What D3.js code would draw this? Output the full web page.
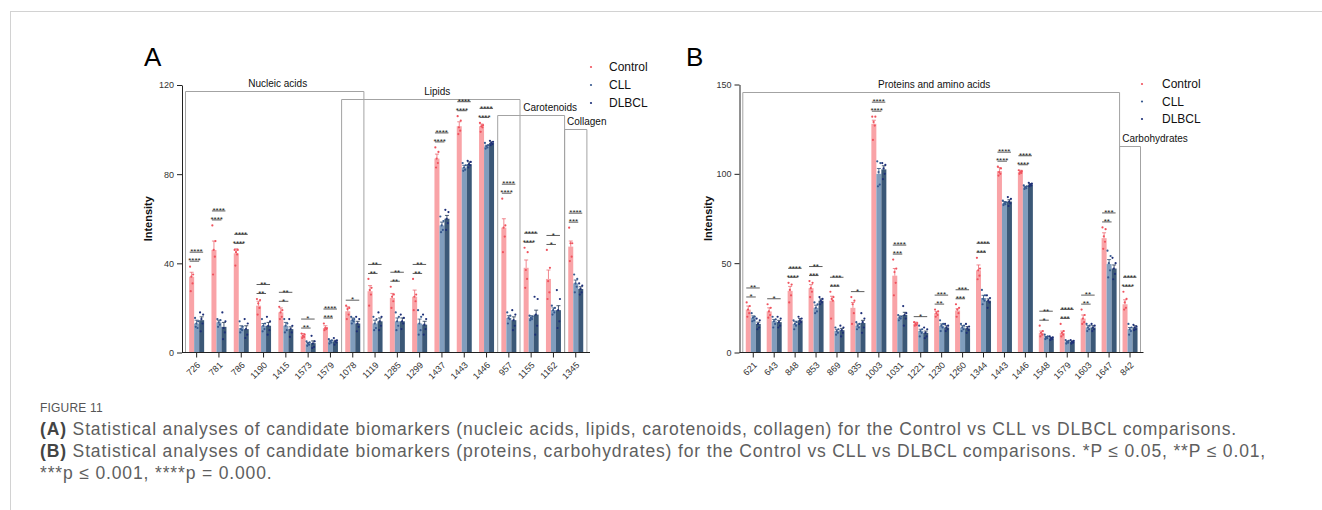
<!DOCTYPE html>
<html>
<head>
<meta charset="utf-8">
<script src="https://cdn.jsdelivr.net/npm/d3@7"></script>
<style>
  html, body { margin: 0; padding: 0; background: #fff; }
  svg { display: block; font-family: "Liberation Sans", Arial, sans-serif; }
</style>
</head>
<body>
<svg id="fig" width="1322" height="510"></svg>
<script>
// ---------- Panel A: nucleic acids, lipids, carotenoids, collagen ----------
const catsA = ["726","781","786","1190","1415","1573","1579","1078","1119","1285","1299","1437","1443","1446","957","1155","1162","1345"];
const controlA = [34, 46, 44.5, 21, 18, 7.5, 11, 18.5, 27.5, 24.5, 25, 87, 101.5, 101.5, 56, 38, 33, 47.5];
const cllA     = [13, 13.5, 11, 12, 12, 4, 5, 14.5, 13, 14, 13, 57, 83, 92.5, 15.5, 15.5, 19, 31];
const dlbclA   = [14.5, 11.5, 10.5, 12, 10.5, 4.2, 5, 13, 14, 14, 12.5, 60, 84.5, 94, 14.5, 17, 19, 28.5];
const semControlA = [2, 4, 2, 2, 2, 1, 1, 2, 2.5, 2, 3, 2, 2, 1, 4, 3.5, 4, 2.5];
const semCllA     = [1.5, 1, 1, 1, 1.5, 0.5, 0.5, 1, 1.5, 1.5, 2, 1.5, 1, 0.5, 1, 1, 1, 1.5];
const semDlbclA   = [1.5, 2, 1.5, 1.5, 1, 1, 0.5, 1, 1.5, 1.5, 1.5, 1.5, 1, 0.5, 1.5, 2, 2, 1];
const ptsControlA = [[38.5,35,34,31,27.5],[57,50,46,43,35],[46,46,45,44,39],[24,23.5,22,20,17],[20.5,19,18,16,15],
  [8.5,8,7.5,7,6.5],[13,11,11,10.5,10],[21,20,19.5,17,15],[33,29,28,26,21],[29.5,26,25,23,20],[33,26,25,23,19],
  [92,90,87,85,83],[106,104,101,99.5,98],[103,102,101.5,101,99],[69,57,56,52,45],[47,45,37,33,29],[46,38,32,27,24],[56,49,49,43,41]];
const ptsCllA = [[15.5,14,13,11,11.5],[15,14.5,13.5,12.5,11.5],[14,11.5,10.5,10,9],[15,13,12,10.5,9.5],[15,13,12,10,9],
  [5,4.5,4,3.5,3],[6,5.5,5,4.5,4],[16,15,14.5,14,13],[16,15,13,11,10],[18,16,14,12,10],[19,16,13,10,8],
  [61,59,57,55,54],[85,84,83,82,81.5],[94,93,92.5,92,91.5],[18,16.5,15.5,15,13],[16.5,16,15.5,15,14.5],[21,20,19,18,17],[35,33,31,29.5,27]];
const ptsDlbclA = [[18,17,15,13,9.5],[18,14,11,9,6],[15,13,10.5,8,6.5],[16,14,12,10,8],[15,12,10.5,9,7],
  [7.5,5,4,2.5,2],[6.5,5.5,5,4.5,3.5],[16,15,13,11.5,9.5],[18,16,14,12,10],[17,15.5,14,13,10.5],[17,15,12.5,10.5,8],
  [64,63,60,58,55],[86,85.5,84.5,84,83],[95,94.5,94,93.5,93],[19,17,14.5,12,10],[25,24,17,12,8],[28,24,19,14,11],[31,30,28.5,27,26]];
// significance: Control vs CLL, Control vs DLBCL
const sigCllA   = ["****","****","****","**","*","**","***","","**","**","**","****","****","****","****","****","*","***"];
const sigDlbclA = ["****","****","****","**","**","*","****","*","**","**","**","****","****","****","****","****","*","****"];
const groupNamesA = ["Nucleic acids","Lipids","Carotenoids","Collagen"];
const groupFromA  = [0, 7, 14, 17];
const groupToA    = [7, 14, 16, 17];
const groupTopA   = [117.3, 113.5, 106.7, 100.1];
const yTicksA = [0, 40, 80, 120];

// ---------- Panel B: proteins and amino acids, carbohydrates ----------
const catsB = ["621","643","848","853","869","935","1003","1031","1221","1230","1260","1344","1443","1446","1548","1579","1603","1647","842"];
const controlB = [24, 23, 34.5, 36, 29, 25, 128, 43, 16, 22, 23.5, 46, 101.5, 101, 11, 11, 19, 64, 27];
const cllB     = [19.5, 17.5, 16, 25, 12, 15, 100, 19.5, 12, 15, 14, 30.5, 83.5, 92.5, 8.5, 6, 14, 49.5, 13];
const dlbclB   = [16, 17, 18, 29, 12.5, 16.5, 102.5, 21, 11, 14, 13.5, 29, 84.5, 94, 8, 6, 14, 47, 14];
const semControlB = [2, 2, 2.5, 2, 2.5, 3, 2, 4, 1, 1, 1, 3, 2, 1, 1, 1, 2, 3, 2.5];
const semCllB     = [1, 1, 1.5, 1.5, 1, 1, 3, 1, 1, 1, 1, 1.5, 1, 0.5, 0.5, 0.5, 1, 2.5, 1];
const semDlbclB   = [1, 1, 1, 1, 1, 1.5, 2, 1.5, 1, 1, 1, 1, 1, 0.5, 0.5, 0.5, 1, 2, 1];
const ptsControlB = [[28,26,24,22,20],[27,25,23,21,19.5],[39,38,35,32,28],[40,39,36,34,31],[34,31,30,29,19],[31,29,27,22,16],
  [132,132,129,127,119],[52,47,45,39,32],[17,16.5,16,15.5,15],[24,23,22,21,20],[27,25,24,22,20],[53,47,46,43,41],
  [104,103,101,100,99],[102,101.5,101,100.5,100],[15,12,11,10,9],[16,12,11,10,9],[24,21,19,17,16],[70,69,65,62,58],[34,30,28,25,24]];
const ptsCllB = [[22,20,19.5,18,17.5],[20,18.5,17.5,16,14],[18,17,16,15,13],[28,27,25,23,22],[14,13,12,11,10],[17,16,15,14,13],
  [107,106,101,94,93],[21,20,19.5,19,18],[15,13,12,11,9],[18,16,15,14,12],[16,15,14,13,12],[35,32,30,29,27],
  [85,84,83.5,83,82.5],[93.5,93,92.5,92,91.5],[10,9,8.5,8,7.5],[7,6.5,6,5.5,5],[16,15,14,13,12],[57,54,50,46,42],[16,14,13,12,10]];
const ptsDlbclB = [[19,18,16,14,13],[20,19,17,15,14],[20,19,18,17,16],[31,30,29,28,27],[15,14,12.5,11,9],[22,19,17,14,11],
  [106,105,103,100,97],[26,22,21,19,15],[14,13,11,9,8],[16,15,14,13,12],[16,14.5,13.5,12.5,11],[32,30.5,29,28,25],
  [87,86,84.5,83.5,82],[95,94.5,94,93.5,93],[9,8.5,8,7.5,7],[7,6.5,6,5.5,5],[16,15,14,13,12],[53,50,47,44,41],[15.5,14.5,14,13,12.5]];
const sigCllB   = ["*","","****","***","***","","****","***","","**","***","***","****","****","*","***","**","**","****"];
const sigDlbclB = ["**","*","****","**","***","*","****","****","*","***","***","****","****","****","**","****","**","***","****"];
const groupNamesB = ["Proteins and amino acids","Carbohydrates"];
const groupFromB  = [0, 18];
const groupToB    = [17, 18];
const groupTopB   = [145.9, 115.5];
const yTicksB = [0, 50, 100, 150];

const seriesNames = ["Control", "CLL", "DLBCL"];
const barFill = ["#f9a3a7", "#809dbd", "#3b5877"];
const dotFill = ["#f0535e", "#36598f", "#1d2f78"];
const errStroke = ["#ec6b74", "#2f4d75", "#1e3350"];

const svg = d3.select("#fig");

// page frame
svg.append("rect").attr("x", 10.5).attr("y", 11.5).attr("width", 1400).attr("height", 600)
  .attr("fill", "none").attr("stroke", "#d2d2d2");

function drawPanel(d, L) {
  const g = svg.append("g");
  const x = d3.scaleBand().domain(d.cats).range(L.xRange).paddingInner(0).paddingOuter(0);
  const step = x.bandwidth();
  const cx = c => x(c) + step / 2;
  const sub = d3.scaleBand().domain(seriesNames).range([-L.barW * 1.5, L.barW * 1.5]);
  const y = d3.scaleLinear().domain([0, L.yMax]).range([L.y0, L.yTop]);
  const jitter = [-1.6, 1.5, -0.3, 0.9, -0.9];

  // category group brackets
  d.groupNames.forEach((name, i) => {
    const left = Math.max(L.axisX, x(d.cats[d.groupFrom[i]]));
    const right = x(d.cats[d.groupTo[i]]) + step;
    const top = Math.round(y(d.groupTop[i])) + 0.5;
    g.append("path")
      .attr("d", `M${left},${L.y0}V${top}H${right}V${L.y0}`)
      .attr("fill", "none").attr("stroke", "#a3a3a3").attr("stroke-width", 1);
    g.append("text")
      .attr("x", (left + right) / 2 + L.labelDx[i]).attr("y", top - 4.5)
      .attr("text-anchor", "middle").attr("font-size", 10).attr("fill", "#111")
      .text(name);
  });

  // bars, error bars and replicate points
  d.cats.forEach((c, i) => {
    seriesNames.forEach((s, k) => {
      const m = d.means[k][i], e = d.sems[k][i];
      const bx = cx(c) + sub(s);
      const bw = sub.bandwidth();
      g.append("rect").attr("x", bx).attr("y", y(m)).attr("width", bw).attr("height", y(0) - y(m))
        .attr("fill", barFill[k]);
      const mx = bx + bw / 2;
      g.append("path")
        .attr("d", `M${mx},${y(m)}V${y(m + e)}M${mx - 2},${y(m + e)}H${mx + 2}`)
        .attr("stroke", errStroke[k]).attr("stroke-width", 0.8).attr("fill", "none");
      d.pts[k][i].forEach((v, j) => {
        g.append("circle").attr("cx", mx + jitter[j % jitter.length]).attr("cy", y(v)).attr("r", 1.1)
          .attr("fill", dotFill[k]);
      });
    });

    // significance bars
    const topVal = Math.max(d3.max(d.pts[0][i]), d.means[0][i] + d.sems[0][i]);
    const base = y(topVal) - 5.5;
    const xc = cx(c) + sub("Control") + sub.bandwidth() / 2;
    const marks = [];
    if (d.sigCll[i]) marks.push({ t: d.sigCll[i], to: "CLL" });
    if (d.sigDlbcl[i]) marks.push({ t: d.sigDlbcl[i], to: "DLBCL" });
    marks.forEach((mk, j) => {
      const ly = base - j * 9;
      const xe = cx(c) + sub(mk.to) + sub.bandwidth() / 2 + (mk.to === "CLL" ? 2.5 : 1.5);
      const xs = xc - 2;
      g.append("line").attr("x1", xs).attr("x2", xe).attr("y1", ly).attr("y2", ly)
        .attr("stroke", "#333").attr("stroke-width", 0.8);
      g.append("text").attr("x", (xs + xe) / 2).attr("y", ly + 2.3)
        .attr("text-anchor", "middle").attr("font-size", 8).attr("fill", "#222")
        .text(mk.t);
    });
  });

  // y axis
  const ya = g.append("g").attr("transform", `translate(${L.axisX},0)`)
    .call(d3.axisLeft(y).tickValues(L.yTicks).tickSize(5).tickSizeOuter(0).tickPadding(3));
  ya.select(".domain").attr("stroke", "#222");
  ya.selectAll(".tick line").attr("stroke", "#222");
  ya.selectAll(".tick text").attr("font-size", 9).attr("fill", "#333").attr("font-family", "Liberation Sans, Arial, sans-serif");

  // x axis
  const xa = g.append("g").attr("transform", `translate(0,${L.y0})`)
    .call(d3.axisBottom(x).tickSize(5).tickSizeOuter(0));
  xa.select(".domain").remove();
  xa.append("line").attr("x1", L.axisX).attr("x2", L.axisEnd).attr("y1", 0).attr("y2", 0).attr("stroke", "#222");
  xa.selectAll(".tick line").attr("stroke", "#222");
  xa.selectAll(".tick text")
    .attr("y", 0).attr("dy", "0.35em").attr("x", 0)
    .attr("transform", "translate(2,11) rotate(-45)")
    .attr("text-anchor", "end").attr("font-size", 9).attr("fill", "#333")
    .attr("font-family", "Liberation Sans, Arial, sans-serif");

  // y axis title
  g.append("text").attr("transform", `translate(${L.titleX},${(L.y0 + L.yTop) / 2}) rotate(-90)`)
    .attr("text-anchor", "middle").attr("dy", "0.35em")
    .attr("font-size", 11).attr("font-weight", "bold").attr("fill", "#111")
    .text("Intensity");

  // panel letter
  g.append("text").attr("x", L.letterX).attr("y", 66).attr("font-size", 26).attr("fill", "#000")
    .text(L.letter);

  // legend
  seriesNames.forEach((s, k) => {
    const ly = L.legendY + k * L.legendGap;
    g.append("circle").attr("cx", L.legendX).attr("cy", ly).attr("r", 1.1).attr("fill", dotFill[k]);
    g.append("text").attr("x", L.legendX + L.legendTextDx).attr("y", ly).attr("dy", "0.35em")
      .attr("font-size", 12).attr("fill", "#111").text(s);
  });
}

drawPanel({
  cats: catsA,
  means: [controlA, cllA, dlbclA],
  sems: [semControlA, semCllA, semDlbclA],
  pts: [ptsControlA, ptsCllA, ptsDlbclA],
  sigCll: sigCllA, sigDlbcl: sigDlbclA,
  groupNames: groupNamesA, groupFrom: groupFromA, groupTo: groupToA, groupTop: groupTopA
}, {
  xRange: [185.5, 586.9], axisX: 182, axisEnd: 590, y0: 352.5, yTop: 85, yMax: 120, yTicks: yTicksA,
  barW: 5, labelDx: [3, 6.5, 19, 11], titleX: 148, letter: "A", letterX: 144,
  legendX: 591, legendTextDx: 18, legendY: 67, legendGap: 18
});

drawPanel({
  cats: catsB,
  means: [controlB, cllB, dlbclB],
  sems: [semControlB, semCllB, semDlbclB],
  pts: [ptsControlB, ptsCllB, ptsDlbclB],
  sigCll: sigCllB, sigDlbcl: sigDlbclB,
  groupNames: groupNamesB, groupFrom: groupFromB, groupTo: groupToB, groupTop: groupTopB
}, {
  xRange: [742.8, 1140.5], axisX: 739.5, axisEnd: 1143.5, y0: 352.5, yTop: 84.5, yMax: 150, yTicks: yTicksB,
  barW: 5, labelDx: [3, 25], titleX: 708, letter: "B", letterX: 686,
  legendX: 1142, legendTextDx: 20, legendY: 84, legendGap: 17.5
});

// ---------- caption ----------
const capFont = "'Liberation Sans', Arial, sans-serif";
svg.append("text").attr("x", 40).attr("y", 411.5).attr("font-family", capFont)
  .attr("font-size", 12).attr("fill", "#555").attr("letter-spacing", 0.2).text("FIGURE 11");

const capLines = [
  ["(A)", "Statistical analyses of candidate biomarkers (nucleic acids, lipids, carotenoids, collagen) for the Control vs CLL vs DLBCL comparisons."],
  ["(B)", "Statistical analyses of candidate biomarkers (proteins, carbohydrates) for the Control vs CLL vs DLBCL comparisons. *P ≤ 0.05, **P ≤ 0.01,"],
  ["", "***p ≤ 0.001, ****p = 0.000."]
];
const capY = [435, 457, 479];
const capColor = "#5e5e5e";
const fs = 17.5;

// letter spacing that lets the first line span the text column
const firstLine = capLines[0][0] + " " + capLines[0][1];
const probe = svg.append("text").attr("font-family", capFont).attr("font-size", fs).text(firstLine);
const ls = Math.max(0, (1196 - probe.node().getComputedTextLength()) / firstLine.length);
probe.remove();

capLines.forEach(([lead, body], i) => {
  let xPos = 40;
  if (lead) {
    const b = svg.append("text").attr("x", xPos).attr("y", capY[i]).attr("font-family", capFont)
      .attr("font-size", fs).attr("font-weight", "bold").attr("fill", "#444")
      .attr("letter-spacing", ls).text(lead);
    xPos += b.node().getComputedTextLength() + fs * 0.28 + ls;
  }
  svg.append("text").attr("x", xPos).attr("y", capY[i]).attr("font-family", capFont)
    .attr("font-size", fs).attr("fill", capColor).attr("letter-spacing", ls).text(body);
});
</script>
</body>
</html>
